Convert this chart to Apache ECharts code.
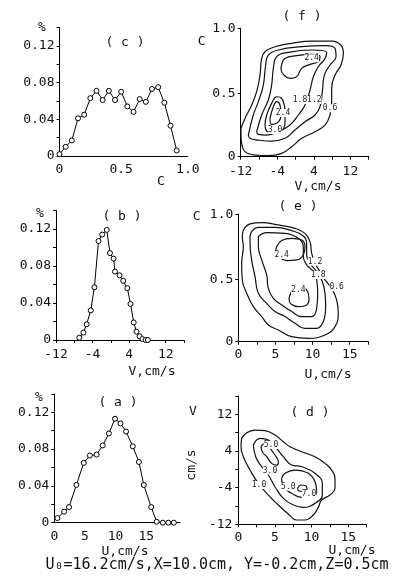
<!DOCTYPE html>
<html><head><meta charset="utf-8">
<script src="https://cdn.jsdelivr.net/npm/echarts@6/dist/echarts.min.js"></script>
<style>html,body{margin:0;padding:0;background:#fff}#chart{width:393px;height:581px}</style>
</head><body><div id="chart"></div>
<script>
// ---------- data ----------
// (c) frequency vs concentration C
const cX = [0,0.05,0.10,0.15,0.20,0.25,0.30,0.35,0.40,0.45,0.50,0.55,0.60,0.65,0.70,0.75,0.80,0.85,0.90,0.95];
const cY = [0.002,0.010,0.017,0.041,0.045,0.063,0.071,0.061,0.071,0.061,0.070,0.054,0.048,0.062,0.059,0.073,0.075,0.058,0.033,0.006];
// (b) frequency vs V
const bX = [-6.9,-6.0,-5.3,-4.4,-3.6,-2.7,-1.9,-0.9,-0.2,0.6,0.9,1.9,2.7,3.6,4.3,5.0,5.6,6.3,6.9,7.6,8.1];
const bY = [0.0025,0.008,0.017,0.032,0.057,0.107,0.114,0.119,0.094,0.088,0.074,0.070,0.064,0.056,0.039,0.019,0.009,0.004,0.001,0,0];
// (a) frequency vs U
const aX = [0.5,1.6,2.4,3.6,4.8,5.8,6.9,7.9,8.9,9.9,10.8,11.7,12.8,13.8,14.6,15.8,16.7,17.7,18.6,19.5];
const aY = [0.005,0.012,0.017,0.041,0.065,0.073,0.074,0.084,0.097,0.113,0.108,0.099,0.083,0.066,0.041,0.017,0.001,0,0,0];

// (f) joint distribution V–C : contour polygons [V, C]
const fOuter = [[-11.94,0.225],[-11.06,0.304],[-9.60,0.41],[-8.51,0.516],[-7.78,0.648],[-7.41,0.78],[-6.69,0.833],[-4.50,0.873],[-0.85,0.90],[3.53,0.918],[7.90,0.918],[9.94,0.886],[10.46,0.82],[9.94,0.728],[8.63,0.648],[7.90,0.542],[7.90,0.437],[7.54,0.331],[6.44,0.251],[4.26,0.198],[1.34,0.146],[-0.85,0.079],[-3.04,0.026],[-5.96,0.008],[-8.87,0.013],[-11.06,0.04],[-11.79,0.106],[-11.94,0.172]];
const fMid = [[-10.33,0.172],[-9.24,0.331],[-8.14,0.437],[-7.05,0.569],[-6.54,0.728],[-5.96,0.807],[-3.77,0.847],[1.34,0.873],[6.44,0.881],[8.63,0.86],[8.85,0.794],[7.54,0.728],[6.30,0.648],[5.86,0.516],[5.35,0.397],[4.26,0.331],[2.07,0.278],[-0.12,0.212],[-2.31,0.146],[-5.23,0.124],[-8.14,0.132],[-9.97,0.146]];
const fIn = [[-8.51,0.198],[-7.41,0.331],[-5.96,0.45],[-5.23,0.569],[-4.86,0.701],[-4.13,0.794],[-1.58,0.828],[3.53,0.847],[6.81,0.828],[6.44,0.78],[4.98,0.714],[3.89,0.635],[3.16,0.529],[2.07,0.41],[0.61,0.331],[-1.22,0.251],[-3.77,0.198],[-6.32,0.172],[-8.14,0.177]];
const fTop = [[-3.04,0.728],[-2.31,0.78],[0.24,0.802],[3.53,0.812],[5.35,0.794],[4.98,0.754],[3.16,0.733],[1.34,0.701],[0.24,0.635],[-1.22,0.622],[-2.67,0.653],[-3.18,0.696]];
const fLow = [[-6.69,0.251],[-6.32,0.331],[-5.23,0.423],[-4.13,0.476],[-3.04,0.463],[-2.31,0.357],[-2.31,0.265],[-3.40,0.198],[-5.23,0.185],[-6.32,0.204]];
const fPeak = [[-5.59,0.304],[-4.86,0.397],[-4.13,0.437],[-3.40,0.41],[-3.18,0.331],[-4.13,0.265],[-5.23,0.257]];

// (e) joint distribution U–C : contour polygons [U, C]
const eOuter = [[0.68,0.894],[1.58,0.942],[3.15,0.953],[5.39,0.934],[7.63,0.907],[8.98,0.867],[9.65,0.801],[9.88,0.707],[10.32,0.627],[11.0,0.561],[11.67,0.494],[12.57,0.427],[13.24,0.334],[13.46,0.227],[13.02,0.121],[11.67,0.054],[9.43,0.027],[7.18,0.041],[5.39,0.094],[4.04,0.134],[3.15,0.201],[2.02,0.281],[1.13,0.387],[0.54,0.494],[0.45,0.627],[0.68,0.761],[0.54,0.841]];
const eMid = [[1.8,0.881],[2.7,0.915],[4.94,0.915],[7.18,0.889],[8.75,0.846],[9.2,0.787],[9.2,0.694],[9.65,0.627],[10.55,0.561],[11.31,0.481],[11.67,0.387],[11.76,0.281],[11.45,0.161],[10.55,0.107],[8.98,0.107],[7.63,0.147],[6.29,0.201],[4.94,0.241],[3.82,0.307],[2.7,0.387],[2.25,0.521],[1.8,0.654],[1.58,0.787],[1.58,0.841]];
const eIn = [[2.7,0.841],[3.82,0.873],[6.29,0.867],[8.08,0.827],[8.75,0.761],[8.75,0.681],[9.2,0.614],[10.1,0.561],[10.55,0.494],[10.69,0.387],[10.55,0.267],[9.88,0.201],[8.53,0.201],[7.18,0.241],[5.84,0.294],[4.72,0.347],[4.04,0.427],[3.82,0.534],[3.15,0.654],[2.7,0.761]];
const eTop = [[5.17,0.761],[5.84,0.809],[7.18,0.827],[8.53,0.814],[8.98,0.761],[8.75,0.694],[7.86,0.654],[6.51,0.649],[5.39,0.681],[5.03,0.721]];
const eLow = [[6.96,0.374],[7.41,0.419],[8.31,0.441],[9.2,0.414],[9.52,0.347],[9.2,0.294],[8.08,0.281],[7.1,0.302],[6.83,0.339]];

// (d) joint distribution U–V : contour polygons [U, V]
const dOuter = [[0.46,6.77],[1.14,8.0],[2.28,8.59],[3.64,8.44],[5.0,7.5],[6.14,6.04],[7.05,4.95],[8.64,3.86],[10.46,2.76],[11.82,1.31],[12.73,-0.15],[13.19,-1.97],[13.19,-4.15],[12.5,-5.61],[11.37,-6.70],[10.91,-8.30],[10.23,-9.97],[9.1,-11.06],[7.96,-11.06],[6.82,-9.75],[5.46,-7.79],[4.1,-5.61],[2.73,-3.06],[1.6,-0.15],[0.69,2.76],[0.37,4.95]];
const dMid = [[2.05,5.31],[2.96,6.77],[4.1,6.40],[5.23,4.58],[6.14,2.76],[7.28,0.94],[8.64,0.58],[10.46,-0.87],[11.46,-3.06],[11.46,-5.61],[10.46,-7.43],[8.87,-8.30],[7.5,-7.79],[6.14,-6.33],[5.0,-3.79],[4.1,-1.24],[3.19,0.58],[2.37,2.76]];
const dUpper = [[3.1,4.95],[3.64,5.68],[4.32,4.58],[5.0,3.13],[5.46,1.67],[5.23,0.94],[4.55,1.31],[3.87,2.76],[3.28,3.86]];
const dLower = [[5.91,-1.97],[6.37,-0.87],[7.73,-0.15],[9.55,-0.87],[10.46,-2.69],[10.69,-4.88],[10.0,-6.11],[8.64,-6.11],[7.28,-5.24],[6.14,-3.79]];
const dPeak = [[8.1,-4.15],[8.55,-3.42],[9.19,-3.57],[9.37,-4.30],[8.73,-4.81],[8.19,-4.66]];

// contour level labels
const fLevelLabels = ['2.4','1.8','1.2','0.6','3.0','2.4'];
const eLevelLabels = ['2.4','1.2','1.8','0.6','2.4'];
const dLevelLabels = ['5.0','3.0','1.0','5.0','7.0'];

// ---------- chart ----------
const FONT = '"DejaVu Sans Mono", monospace';
const chart = echarts.init(document.getElementById('chart'), null, {renderer:'canvas'});

const grids = [
  {left:59.5, top:27.5, width:128.3, height:128.5},   // c
  {left:56,   top:210.5, width:128, height:129.5},    // b
  {left:54.3, top:393.9, width:125.7, height:128.8},  // a
  {left:240.7, top:28.2, width:128, height:128.5},    // f
  {left:238.3, top:214.2, width:130, height:127.5},   // e
  {left:238.3, top:396.1, width:128.3, height:128.2}  // d
].map(g => Object.assign({containLabel:false, outerBoundsMode:'none', show:false}, g));

const lineStyleAxis = {show:true, onZero:false, lineStyle:{color:'#000', width:1}};
const lbl = (fmt, margin) => ({color:'#111', fontFamily:FONT, fontSize:13, margin:margin||5, formatter:fmt, showMaxLabel:true, showMinLabel:true, hideOverlap:false});
const tick = (show) => ({show:show, length:3, lineStyle:{color:'#000'}});

const pctFmt = v => { const k = Math.round(v*100); if (k % 4 !== 0 || k > 12) return ''; return k === 0 ? '0' : (k/100).toFixed(2); };
const v8Fmt = v => { const r = Math.round(v); return (((r + 12) % 8 === 0) && r <= 12) ? String(r) : ''; };
const u5Fmt = v => { const r = Math.round(v*10)/10; return (r % 5 === 0 && r <= 15) ? String(r) : ''; };
const c05Fmt = v => { const r = Math.round(v*10)/10; if (r > 1) return ''; return r === 0 ? '0' : r.toFixed(1); };

const xAxes = [
  {gridIndex:0, type:'value', min:0, max:1.04, interval:0.5, axisLine:lineStyleAxis, axisTick:tick(false), splitLine:{show:false}, axisLabel:lbl(c05Fmt,7)},
  {gridIndex:1, type:'value', min:-12, max:16, interval:4, axisLine:lineStyleAxis, axisTick:tick(true), splitLine:{show:false}, axisLabel:lbl(v8Fmt,8)},
  {gridIndex:2, type:'value', min:0, max:20.5, interval:5, axisLine:lineStyleAxis, axisTick:tick(false), splitLine:{show:false}, axisLabel:lbl(u5Fmt,7)},
  {gridIndex:3, type:'value', min:-12, max:16, interval:4, axisLine:lineStyleAxis, axisTick:tick(true), splitLine:{show:false}, axisLabel:lbl(v8Fmt,8)},
  {gridIndex:4, type:'value', min:0, max:17.5, interval:2.5, axisLine:lineStyleAxis, axisTick:tick(true), splitLine:{show:false}, axisLabel:lbl(u5Fmt,6)},
  {gridIndex:5, type:'value', min:0, max:17.5, interval:2.5, axisLine:lineStyleAxis, axisTick:tick(true), splitLine:{show:false}, axisLabel:lbl(u5Fmt,7)}
];
const yAxes = [
  {gridIndex:0, type:'value', min:0, max:0.14, interval:0.02, axisLine:lineStyleAxis, axisTick:tick(true), splitLine:{show:false}, axisLabel:lbl(pctFmt,5)},
  {gridIndex:1, type:'value', min:0, max:0.14, interval:0.02, axisLine:lineStyleAxis, axisTick:tick(true), splitLine:{show:false}, axisLabel:lbl(pctFmt,5)},
  {gridIndex:2, type:'value', min:0, max:0.14, interval:0.02, axisLine:lineStyleAxis, axisTick:tick(true), splitLine:{show:false}, axisLabel:lbl(pctFmt,5)},
  {gridIndex:3, type:'value', min:0, max:1.02, interval:0.5, axisLine:lineStyleAxis, axisTick:tick(true), splitLine:{show:false}, axisLabel:lbl(c05Fmt,5)},
  {gridIndex:4, type:'value', min:0, max:1.02, interval:0.5, axisLine:lineStyleAxis, axisTick:tick(true), splitLine:{show:false}, axisLabel:lbl(c05Fmt,5)},
  {gridIndex:5, type:'value', min:-12, max:16, interval:4, axisLine:lineStyleAxis, axisTick:tick(true), splitLine:{show:false}, axisLabel:lbl(v8Fmt,6)}
];

function markerLine(xs, ys, idx) {
  return {type:'line', xAxisIndex:idx, yAxisIndex:idx, data:xs.map((v,i)=>[v, ys[i]]),
    symbol:'circle', symbolSize:5, showSymbol:true, silent:true, animation:false,
    lineStyle:{color:'#000', width:1}, itemStyle:{color:'#fff', borderColor:'#000', borderWidth:1}};
}
function contour(poly, idx) {
  return {type:'line', xAxisIndex:idx, yAxisIndex:idx, data:poly.concat([poly[0]]),
    smooth:0.45, symbol:'none', silent:true, animation:false,
    lineStyle:{color:'#111', width:1.2}};
}

const series = [
  markerLine(cX, cY, 0), markerLine(bX, bY, 1), markerLine(aX, aY, 2),
  contour(fOuter,3), contour(fMid,3), contour(fIn,3), contour(fTop,3), contour(fLow,3), contour(fPeak,3),
  contour(eOuter,4), contour(eMid,4), contour(eIn,4), contour(eTop,4), contour(eLow,4),
  contour(dOuter,5), contour(dMid,5), contour(dUpper,5), contour(dLower,5), contour(dPeak,5)
];

function txt(s, x, y, size) {
  return {type:'text', z:100, silent:true, style:{text:s, x:x, y:y, fill:'#111',
    font: (size||13) + 'px ' + FONT, textAlign:'center', textVerticalAlign:'middle'}};
}
function lvl(s, x, y) {
  return {type:'text', z:100, silent:true, style:{text:s, x:x, y:y, fill:'#222',
    font:'8px ' + FONT, textAlign:'center', textVerticalAlign:'middle', backgroundColor:'#fff'}};
}
const fLblPos = [[311.7,58.3],[300,100],[314.3,100],[330,108.3],[275,130],[283,113]];
const eLblPos = [[281.7,255],[315,261.7],[318.3,275],[336.7,287.3],[298.3,290]];
const dLblPos = [[271,445],[270,470.7],[259,485],[288.3,486.7],[309,494]];

const rotated = {type:'text', z:100, silent:true, x:192, y:465, rotation:Math.PI/2,
  style:{text:'cm/s', x:0, y:0, fill:'#111', font:'13px ' + FONT, textAlign:'center', textVerticalAlign:'middle'}};

const graphics = [
  txt('%', 42, 28), txt('( c )', 125, 43), txt('C', 161, 182),
  txt('%', 40, 214), txt('( b )', 122, 217), txt('V,cm/s', 152, 372),
  txt('%', 39, 398), txt('( a )', 118, 403), txt('U,cm/s', 125, 552),
  txt('( f )', 302, 17), txt('C', 201.7, 41.7), txt('V,cm/s', 318, 186.7),
  txt('( e )', 298, 207), txt('C', 196.7, 217), txt('U,cm/s', 328, 375),
  txt('( d )', 310, 413), txt('V', 193, 412), rotated,
  txt('U,cm/s', 352, 551),
  txt('U\u2080=16.2cm/s,X=10.0cm, Y=-0.2cm,Z=0.5cm', 217, 565, 15)
];
fLevelLabels.forEach((s,i)=>graphics.push(lvl(s, fLblPos[i][0], fLblPos[i][1])));
eLevelLabels.forEach((s,i)=>graphics.push(lvl(s, eLblPos[i][0], eLblPos[i][1])));
dLevelLabels.forEach((s,i)=>graphics.push(lvl(s, dLblPos[i][0], dLblPos[i][1])));

chart.setOption({
  animation:false,
  backgroundColor:'#fff',
  grid: grids,
  xAxis: xAxes,
  yAxis: yAxes,
  series: series,
  graphic: graphics
});
</script></body></html>
